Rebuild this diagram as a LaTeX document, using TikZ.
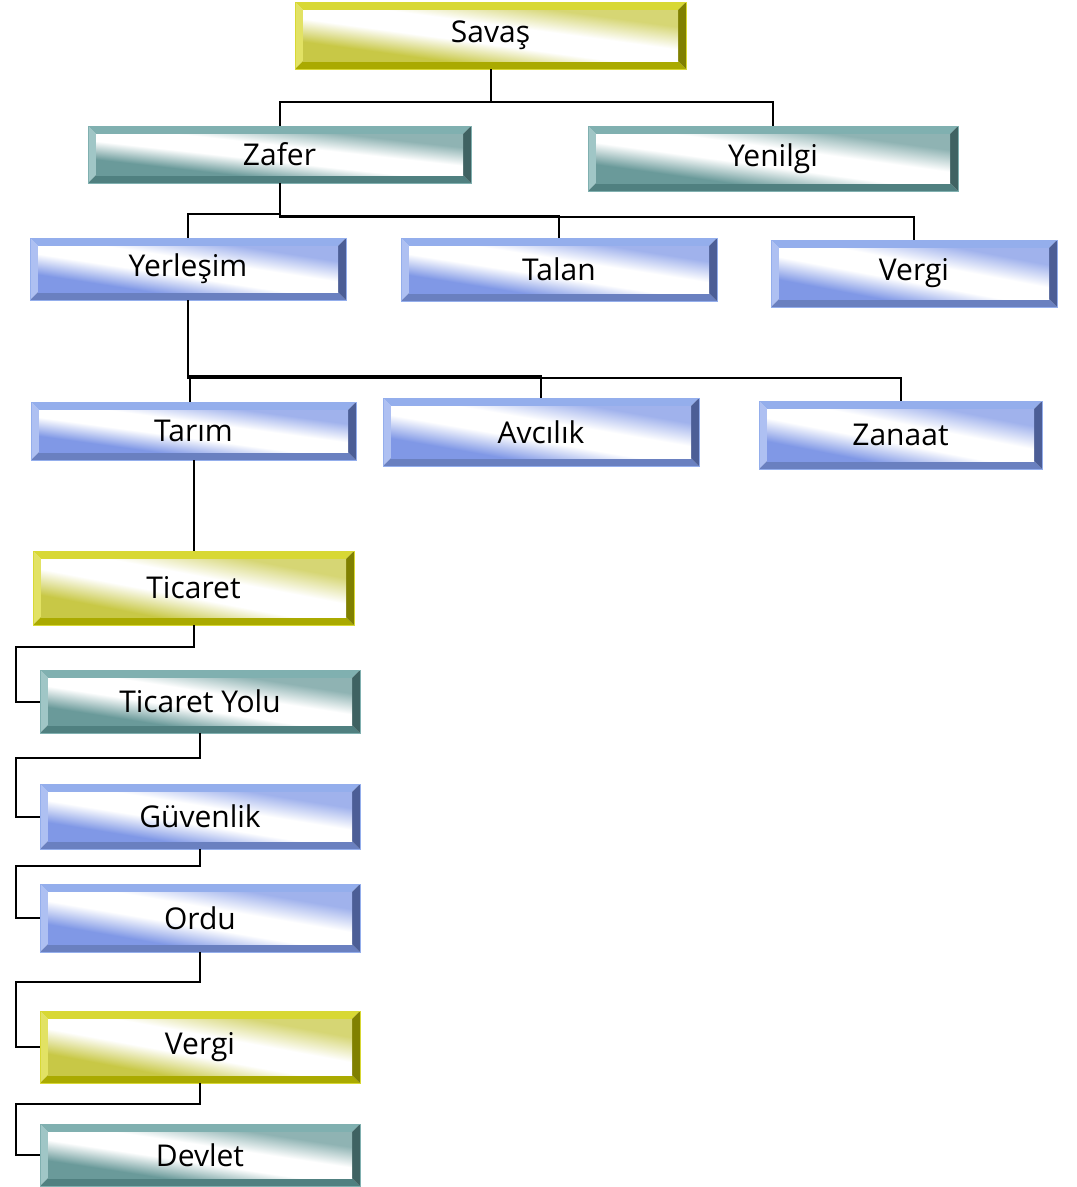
\documentclass[tikz,border=0pt]{standalone}
\usepackage{fontspec}
\setmainfont{Open Sans}
\usetikzlibrary{calc,backgrounds}
\definecolor{YT}{HTML}{D8D834}
\definecolor{YL}{HTML}{E2E264}
\definecolor{YB}{HTML}{AAAA00}
\definecolor{YR}{HTML}{808000}
\definecolor{YI}{HTML}{C8C846}
\definecolor{TT}{HTML}{80B0B0}
\definecolor{TL}{HTML}{A0C6C6}
\definecolor{TB}{HTML}{508080}
\definecolor{TR}{HTML}{3F6262}
\definecolor{TI}{HTML}{6A9A9A}
\definecolor{BT}{HTML}{94AEEC}
\definecolor{BL}{HTML}{AEC0F2}
\definecolor{BB}{HTML}{6A80C0}
\definecolor{BR}{HTML}{4C5E96}
\definecolor{BI}{HTML}{8098E6}
\pgfdeclareverticalshading{Yshade}{100bp}{color(0bp)=(YI); color(28bp)=(YI); color(44bp)=(white); color(58bp)=(white); color(74bp)=(YI!75!white); color(100bp)=(YI!75!white)}
\pgfdeclareverticalshading{Tshade}{100bp}{color(0bp)=(TI); color(28bp)=(TI); color(44bp)=(white); color(58bp)=(white); color(74bp)=(TI!75!white); color(100bp)=(TI!75!white)}
\pgfdeclareverticalshading{Bshade}{100bp}{color(0bp)=(BI); color(28bp)=(BI); color(44bp)=(white); color(58bp)=(white); color(74bp)=(BI!75!white); color(100bp)=(BI!75!white)}
\makeatletter
\newcommand\drawbevel[2]{% #1 node name, #2 colour family
  \fill[#2T] (#1.north west) -- (#1.north east) -- ([shift={(-8pt,-8pt)}]#1.north east) -- ([shift={(8pt,-8pt)}]#1.north west) -- cycle;
  \fill[#2L] (#1.north west) -- ([shift={(8pt,-8pt)}]#1.north west) -- ([shift={(8pt,8pt)}]#1.south west) -- (#1.south west) -- cycle;
  \fill[#2B] (#1.south west) -- (#1.south east) -- ([shift={(-8pt,8pt)}]#1.south east) -- ([shift={(8pt,8pt)}]#1.south west) -- cycle;
  \fill[#2R] (#1.south east) -- (#1.north east) -- ([shift={(-8pt,-8pt)}]#1.north east) -- ([shift={(-8pt,8pt)}]#1.south east) -- cycle;
  \pgfpointdiff{\pgfpointanchor{#1}{south west}}{\pgfpointanchor{#1}{north east}}%
  \edef\bvwraw{\the\pgf@x}\edef\bvhraw{\the\pgf@y}%
  \pgfmathsetmacro\bvw{\bvwraw-16}%
  \pgfmathsetmacro\bvh{\bvhraw-16}%
  \pgfmathsetmacro\bvs{\bvw/\bvh}%
  \pgfmathsetmacro\bvhh{\bvh/2}%
  \begin{scope}[transform canvas={shift={(#1.center)},xscale=\bvs}]
    \shade[shading=#2shade, shading angle=-45] (-\bvhh pt,-\bvhh pt) rectangle (\bvhh pt,\bvhh pt);
  \end{scope}
  \draw[#2T, line width=0.6pt] (#1.north west) rectangle (#1.south east);
}
\makeatother
\tikzset{
  bev/.style={inner sep=0pt, outer sep=0pt, font=\fontsize{30}{36}\selectfont, text=black},
  conn/.style={draw=black, line width=2pt, line join=miter}
}
\begin{document}
\begin{tikzpicture}[x=1pt,y=-1pt]
\useasboundingbox (0,0) rectangle (1077,1187);
% row 0
\node[bev, minimum width=391pt, minimum height=67pt] (savas) at (490.5,35.5) {Savaş};
% row 1
\node[bev, minimum width=383pt, minimum height=57pt] (zafer) at (279.5,154.5) {Zafer};
\node[bev, minimum width=370pt, minimum height=65pt] (yenilgi) at (773,158.5) {Yenilgi};
% row 2
\node[bev, minimum width=316pt, minimum height=62pt] (yerlesim) at (188,269) {Yerleşim};
\node[bev, minimum width=316pt, minimum height=63pt] (talan) at (559,269.5) {Talan};
\node[bev, minimum width=286pt, minimum height=67pt] (vergia) at (914,273.5) {Vergi};
% row 3
\node[bev, minimum width=325pt, minimum height=58pt] (tarim) at (193.5,431) {Tarım};
\node[bev, minimum width=316pt, minimum height=68pt] (avcilik) at (541,432) {Avcılık};
\node[bev, minimum width=283pt, minimum height=68pt] (zanaat) at (900.5,435) {Zanaat};
% chain
\node[bev, minimum width=321pt, minimum height=74pt] (ticaret) at (193.5,588) {Ticaret};
\node[bev, minimum width=320pt, minimum height=63pt] (tyolu) at (200,701.5) {Ticaret Yolu};
\node[bev, minimum width=320pt, minimum height=65pt] (guvenlik) at (200,816.5) {Güvenlik};
\node[bev, minimum width=320pt, minimum height=68pt] (ordu) at (200,918) {Ordu};
\node[bev, minimum width=320pt, minimum height=72pt] (vergib) at (200,1047) {Vergi};
\node[bev, minimum width=320pt, minimum height=62pt] (devlet) at (200,1155) {Devlet};
\begin{scope}[on background layer]
\foreach \n/\c in {savas/Y, zafer/T, yenilgi/T, yerlesim/B, talan/B, vergia/B,
  tarim/B, avcilik/B, zanaat/B, ticaret/Y, tyolu/T, guvenlik/B, ordu/B, vergib/Y, devlet/T}
  {\drawbevel{\n}{\c}}
\end{scope}
% connectors
\draw[conn] (savas.south) -- ++(0,33) -| (zafer.north);
\draw[conn] (savas.south) -- ++(0,33) -| (yenilgi.north);
\draw[conn] (zafer.south) -- ++(0,31) -| (yerlesim.north);
\draw[conn] (zafer.south) -- ++(0,33) -| (talan.north);
\draw[conn] (zafer.south) -- ++(0,34) -| (vergia.north);
\draw[conn] (yerlesim.south) -- ++(0,77) -| ([xshift=-3.5pt]tarim.north);
\draw[conn] (yerlesim.south) -- ++(0,76) -| (avcilik.north);
\draw[conn] (yerlesim.south) -- ++(0,78) -| (zanaat.north);
\draw[conn] (tarim.south) -- (ticaret.north);
\draw[conn] (ticaret.south) -- ++(0,22) -| ([xshift=-24pt]tyolu.west) -- (tyolu.west);
\draw[conn] (tyolu.south) -- ++(0,25) -| ([xshift=-24pt]guvenlik.west) -- (guvenlik.west);
\draw[conn] (guvenlik.south) -- ++(0,17) -| ([xshift=-24pt]ordu.west) -- (ordu.west);
\draw[conn] (ordu.south) -- ++(0,30) -| ([xshift=-24pt]vergib.west) -- (vergib.west);
\draw[conn] (vergib.south) -- ++(0,21) -| ([xshift=-24pt]devlet.west) -- (devlet.west);
\end{tikzpicture}
\end{document}
